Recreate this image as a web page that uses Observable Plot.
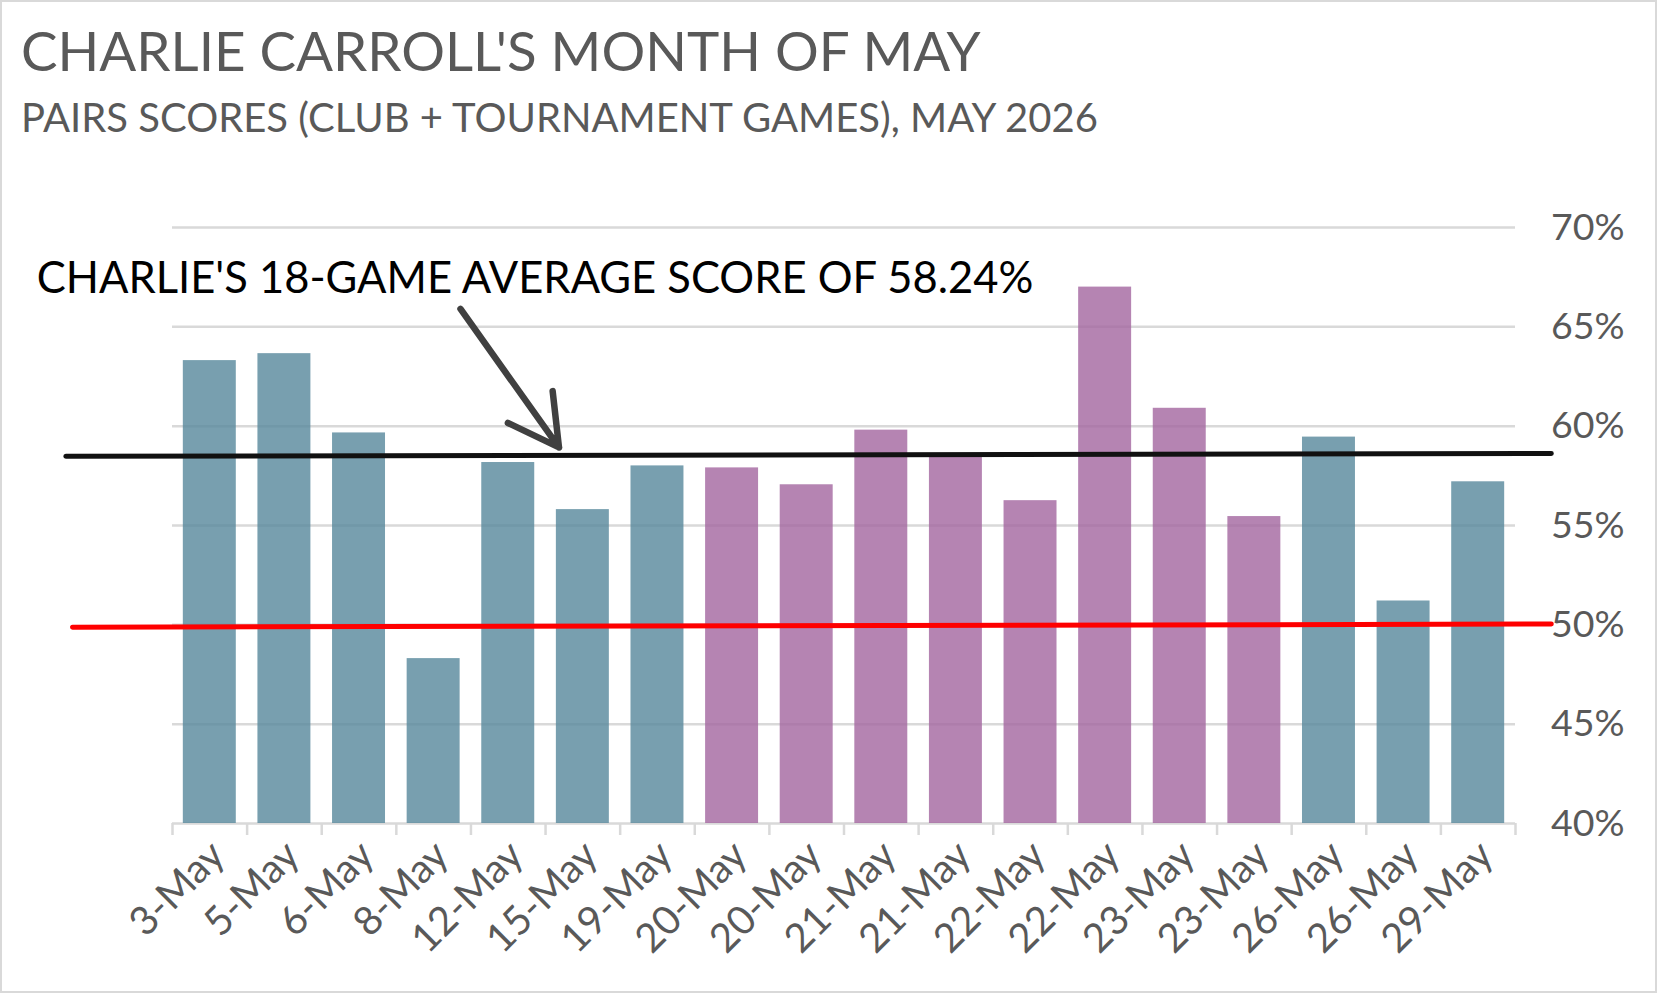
<!DOCTYPE html>
<html><head><meta charset="utf-8">
<script src="https://cdn.jsdelivr.net/npm/d3@7"></script>
<script src="https://cdn.jsdelivr.net/npm/@observablehq/plot@0.6"></script>
<style>
html,body{margin:0;padding:0;background:#fff;}
#wrap{position:relative;width:1657px;height:993px;overflow:hidden;font-family:Lato,sans-serif;background:#fff;}
#frame{position:absolute;left:0;top:0;width:1657px;height:993px;box-sizing:border-box;border:2px solid #d9d9d9;pointer-events:none;}
#title{position:absolute;left:21px;top:18px;font-size:54.7px;line-height:1.2;color:#595959;white-space:nowrap;}
#subtitle{position:absolute;left:21px;top:93px;font-size:40px;line-height:1.2;color:#595959;white-space:nowrap;}
#chart{position:absolute;left:0;top:150px;}
</style></head><body>
<div id="wrap">
  <div id="title">CHARLIE CARROLL'S MONTH OF MAY</div>
  <div id="subtitle">PAIRS SCORES (CLUB + TOURNAMENT GAMES), MAY 2026</div>
  <div id="chart"></div>
  <div id="frame"></div>
</div>
<script>
// ---- data ----
const dates = ["3-May","5-May","6-May","8-May","12-May","15-May","19-May","20-May","20-May",
               "21-May","21-May","22-May","22-May","23-May","23-May","26-May","26-May","29-May"];
const scores = [63.3, 63.65, 59.66, 48.3, 58.17, 55.8, 58.0, 57.9, 57.05,
                59.8, 58.55, 56.25, 67.0, 60.9, 55.45, 59.45, 51.2, 57.2];
const gameTypes = ["Club","Club","Club","Club","Club","Club","Club",
                   "Tournament","Tournament","Tournament","Tournament","Tournament","Tournament","Tournament","Tournament",
                   "Club","Club","Club"];
const yTicks = [40, 45, 50, 55, 60, 65, 70];
// hand-drawn reference lines (x in category-index units, y in %)
const averageLineX = [-1.93, 17.98];
const averageLineY = [58.48, 58.63];
const evenLineX = [-1.84, 17.98];
const evenLineY = [49.88, 50.04];
// annotation
const annotationText = "CHARLIE'S 18-GAME AVERAGE SCORE OF 58.24%";
const annotationPos = {x: -2.32, y: 66.68};
const arrowFrom = {x: 3.36, y: 65.9};
const arrowTo = {x: 4.68, y: 58.93};

// ---- build ----
const games = dates.map((d, i) => ({i, date: d, score: scores[i], type: gameTypes[i]}));
const boundaries = d3.range(dates.length + 1).map(k => k - 0.5);
const avgLine = averageLineX.map((x, k) => ({x, y: averageLineY[k]}));
const evenLine = evenLineX.map((x, k) => ({x, y: evenLineY[k]}));
const halfBar = 0.355;

const chart = Plot.plot({
  width: 1657,
  height: 840,
  marginLeft: 172,
  marginRight: 142,
  marginTop: 77,
  marginBottom: 167,
  style: {fontFamily: "Lato, sans-serif", background: "transparent", overflow: "visible"},
  x: {domain: [-0.5, dates.length - 0.5], axis: null},
  y: {domain: [40, 70], axis: null},
  color: {domain: ["Club", "Tournament"], range: ["#56879b", "#a2659f"]},
  marks: [
    Plot.ruleY(yTicks, {stroke: "#d9d9d9", strokeWidth: 2.5}),
    Plot.rect(games, {x1: d => d.i - halfBar, x2: d => d.i + halfBar, y1: 40, y2: "score", fill: "type", fillOpacity: 0.8}),
    Plot.axisX({ticks: boundaries, tickSize: 12, tickFormat: () => "", stroke: "#d9d9d9", strokeWidth: 2.5, strokeOpacity: 1}),
    Plot.text(games, {x: "i", y: 40, text: "date", rotate: -45, textAnchor: "end", lineAnchor: "middle",
      dx: 8, dy: 25, fontSize: 40, fill: "#595959"}),
    Plot.axisY({anchor: "right", ticks: yTicks, tickSize: 0, tickPadding: 0, textAnchor: "end", dx: 109,
      tickFormat: d => d + "%", fontSize: 37.5, fill: "#595959"}),
    Plot.line(evenLine, {x: "x", y: "y", stroke: "#ff0000", strokeWidth: 5}),
    Plot.line(avgLine, {x: "x", y: "y", stroke: "#111111", strokeWidth: 5}),
    Plot.arrow([{a: arrowFrom, b: arrowTo}], {x1: d => d.a.x, y1: d => d.a.y, x2: d => d.b.x, y2: d => d.b.y,
      stroke: "#404040", strokeWidth: 6.5, headLength: 13.5, headAngle: 58, strokeLinecap: "round", strokeLinejoin: "round"}),
    Plot.text([annotationText], {x: annotationPos.x, y: annotationPos.y, text: d => d, textAnchor: "start",
      lineAnchor: "bottom", fontSize: 43.5, fill: "#000000"})
  ]
});
document.getElementById("chart").appendChild(chart);
</script>
</body></html>
